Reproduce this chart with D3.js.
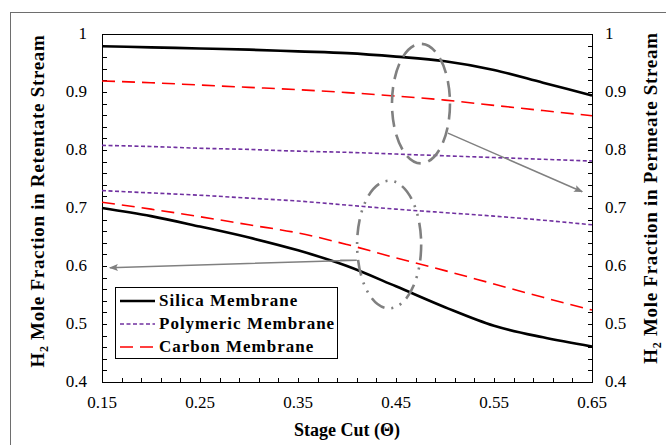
<!DOCTYPE html>
<html>
<head>
<meta charset="utf-8">
<script src="https://cdn.jsdelivr.net/npm/d3@7"></script>
<style>
  body { margin: 0; background: #fff; }
  text { font-family: "Liberation Serif", "Times New Roman", serif; }
</style>
</head>
<body>
<div id="chart"></div>
<script>
const stageCut = [0.15, 0.20, 0.25, 0.30, 0.35, 0.40, 0.45, 0.50, 0.55, 0.60, 0.65]
const silicaPermeate = [0.979, 0.977, 0.975, 0.973, 0.970, 0.967, 0.961, 0.953, 0.938, 0.916, 0.894]
const silicaRetentate = [0.700, 0.686, 0.668, 0.649, 0.627, 0.600, 0.565, 0.529, 0.497, 0.477, 0.461]
const polyPermeate = [0.808, 0.806, 0.803, 0.801, 0.798, 0.796, 0.793, 0.790, 0.787, 0.784, 0.781]
const polyRetentate = [0.730, 0.726, 0.722, 0.717, 0.712, 0.705, 0.698, 0.692, 0.686, 0.679, 0.671]
const carbonPermeate = [0.919, 0.916, 0.912, 0.908, 0.904, 0.899, 0.893, 0.886, 0.877, 0.868, 0.859]
const carbonRetentate = [0.710, 0.698, 0.685, 0.671, 0.657, 0.637, 0.614, 0.592, 0.569, 0.546, 0.524]
const xTicks = [0.15, 0.25, 0.35, 0.45, 0.55, 0.65]
const yTicks = [0.4, 0.5, 0.6, 0.7, 0.8, 0.9, 1]
const legendNames = ["Silica Membrane", "Polymeric Membrane", "Carbon Membrane"]

const W = 666, H = 445
const MARGIN = { TOP: 34, BOTTOM: 63, LEFT: 102, RIGHT: 74 }
const WIDTH = W - MARGIN.LEFT - MARGIN.RIGHT
const HEIGHT = H - MARGIN.TOP - MARGIN.BOTTOM

const styles = {
  silica: { color: "#000", width: 2.6, dash: null },
  poly: { color: "#7030A0", width: 1.6, dash: "4,2.5" },
  carbon: { color: "#FF0000", width: 1.6, dash: "13,7" },
}

const series = [
  { vals: silicaPermeate, st: styles.silica },
  { vals: silicaRetentate, st: styles.silica },
  { vals: polyPermeate, st: styles.poly },
  { vals: polyRetentate, st: styles.poly },
  { vals: carbonPermeate, st: styles.carbon },
  { vals: carbonRetentate, st: styles.carbon },
]

const svgRoot = d3.select("#chart").append("svg")
  .attr("width", W).attr("height", H)

// outer frame (cut off at right and bottom)
svgRoot.append("rect")
  .attr("x", 10.5).attr("y", 12.5)
  .attr("width", W).attr("height", H)
  .attr("fill", "none").attr("stroke", "#6e6e6e").attr("stroke-width", 1)

const defs = svgRoot.append("defs")
defs.append("marker")
  .attr("id", "head")
  .attr("viewBox", "0 0 10 10")
  .attr("refX", 9).attr("refY", 5)
  .attr("markerWidth", 9).attr("markerHeight", 9)
  .attr("markerUnits", "userSpaceOnUse")
  .attr("orient", "auto")
  .append("path")
  .attr("d", "M0,1 L10,5 L0,9 L2,5 Z")
  .attr("fill", "#808080")

const svg = svgRoot.append("g")
  .attr("transform", `translate(${MARGIN.LEFT}, ${MARGIN.TOP})`)

const x = d3.scaleLinear().domain([0.15, 0.65]).range([0, WIDTH])
const y = d3.scaleLinear().domain([0.4, 1]).range([HEIGHT, 0])

// frame
svg.append("rect")
  .attr("x", 0.5).attr("y", 0.5)
  .attr("width", WIDTH).attr("height", HEIGHT)
  .attr("fill", "none").attr("stroke", "#000").attr("stroke-width", 1)

// minor ticks every 0.02, pointing inward
const yMinor = d3.range(0, 31).map(i => 0.4 + i * 0.02)
const xMinor = d3.range(0, 26).map(i => 0.15 + i * 0.02)

svg.selectAll(".yl").data(yMinor).join("line")
  .attr("x1", 0.5).attr("x2", 5)
  .attr("y1", d => Math.round(y(d)) + 0.5).attr("y2", d => Math.round(y(d)) + 0.5)
  .attr("stroke", "#000")
svg.selectAll(".yr").data(yMinor).join("line")
  .attr("x1", WIDTH + 0.5).attr("x2", WIDTH - 4)
  .attr("y1", d => Math.round(y(d)) + 0.5).attr("y2", d => Math.round(y(d)) + 0.5)
  .attr("stroke", "#000")
svg.selectAll(".xb").data(xMinor).join("line")
  .attr("x1", d => Math.round(x(d)) + 0.5).attr("x2", d => Math.round(x(d)) + 0.5)
  .attr("y1", HEIGHT + 0.5).attr("y2", HEIGHT - 4)
  .attr("stroke", "#000")

// tick labels
const fmt = d => d === 1 ? "1" : d3.format(".1f")(d)
svg.selectAll(".ylab").data(yTicks).join("text")
  .attr("x", -15).attr("y", d => y(d) + 5)
  .attr("text-anchor", "end").attr("font-size", 17)
  .text(fmt)
svg.selectAll(".yrlab").data(yTicks).join("text")
  .attr("x", WIDTH + 13).attr("y", d => y(d) + 5)
  .attr("text-anchor", "start").attr("font-size", 17)
  .text(fmt)
svg.selectAll(".xlab").data(xTicks).join("text")
  .attr("x", d => x(d)).attr("y", HEIGHT + 26)
  .attr("text-anchor", "middle").attr("font-size", 17)
  .text(d => d3.format(".2f")(d))

// axis titles
svg.append("text")
  .attr("x", WIDTH / 2).attr("y", HEIGHT + 54)
  .attr("text-anchor", "middle").attr("font-size", 18).attr("font-weight", "bold")
  .text("Stage Cut (Θ)")

function yTitle(xPos, yPos, label) {
  const t = svg.append("text")
    .attr("transform", `translate(${xPos}, ${yPos}) rotate(-90)`)
    .attr("text-anchor", "middle").attr("font-size", 19).attr("font-weight", "bold")
    .attr("letter-spacing", 0.7)
  t.append("tspan").text("H")
  t.append("tspan").attr("font-size", 12).attr("dy", 4).text("2")
  t.append("tspan").attr("dy", -4).text(" Mole Fraction in " + label)
}
yTitle(-58, HEIGHT / 2 - 7, "Retentate Stream")
yTitle(WIDTH + 65, HEIGHT / 2 - 10, "Permeate Stream")

// lines
const line = d3.line()
  .x((d, i) => x(stageCut[i]))
  .y(d => y(d))
  .curve(d3.curveMonotoneX)

series.forEach(s => {
  svg.append("path")
    .datum(s.vals)
    .attr("fill", "none")
    .attr("stroke", s.st.color)
    .attr("stroke-width", s.st.width)
    .attr("stroke-dasharray", s.st.dash)
    .attr("d", line)
})

// annotations (data coordinates)
const upperEllipse = { cx: 0.4755, cy: 0.880, rx: 0.0296, ry: 0.103 }
const lowerEllipse = { cx: 0.443, cy: 0.637, rx: 0.0327, ry: 0.110 }
const upperArrow = [[0.503, 0.829], [0.640, 0.728]]
const lowerArrow = [[0.393, 0.610], [0.410, 0.610], [0.158, 0.597]]

function ellipse(e, dash) {
  svg.append("ellipse")
    .attr("cx", x(e.cx)).attr("cy", y(e.cy))
    .attr("rx", x(e.cx + e.rx) - x(e.cx))
    .attr("ry", y(e.cy) - y(e.cy + e.ry))
    .attr("fill", "none").attr("stroke", "#808080")
    .attr("stroke-width", 2.6).attr("stroke-dasharray", dash)
}
ellipse(upperEllipse, "16,8")
ellipse(lowerEllipse, "16,7,2,7,2,7")

svg.append("line")
  .attr("x1", x(upperArrow[0][0])).attr("y1", y(upperArrow[0][1]))
  .attr("x2", x(upperArrow[1][0])).attr("y2", y(upperArrow[1][1]))
  .attr("stroke", "#808080").attr("stroke-width", 1.5)
  .attr("marker-end", "url(#head)")

svg.append("path")
  .attr("d", d3.line().x(d => x(d[0])).y(d => y(d[1]))(lowerArrow))
  .attr("fill", "none")
  .attr("stroke", "#808080").attr("stroke-width", 1.5)
  .attr("marker-end", "url(#head)")

// legend
const legend = svgRoot.append("g").attr("transform", "translate(115, 287)")
legend.append("rect")
  .attr("x", 0.5).attr("y", 0.5).attr("width", 222).attr("height", 71)
  .attr("fill", "#fff").attr("stroke", "#000").attr("stroke-width", 1)
const legendStyles = [styles.silica, styles.poly, styles.carbon]
legendNames.forEach((name, i) => {
  const ly = 14 + i * 23
  legend.append("line")
    .attr("x1", 5).attr("x2", 40).attr("y1", ly).attr("y2", ly)
    .attr("stroke", legendStyles[i].color)
    .attr("stroke-width", legendStyles[i].width)
    .attr("stroke-dasharray", legendStyles[i].dash)
  legend.append("text")
    .attr("x", 44).attr("y", ly + 5)
    .attr("font-size", 17).attr("font-weight", "bold")
    .attr("letter-spacing", 1)
    .text(name)
})
</script>
</body>
</html>
